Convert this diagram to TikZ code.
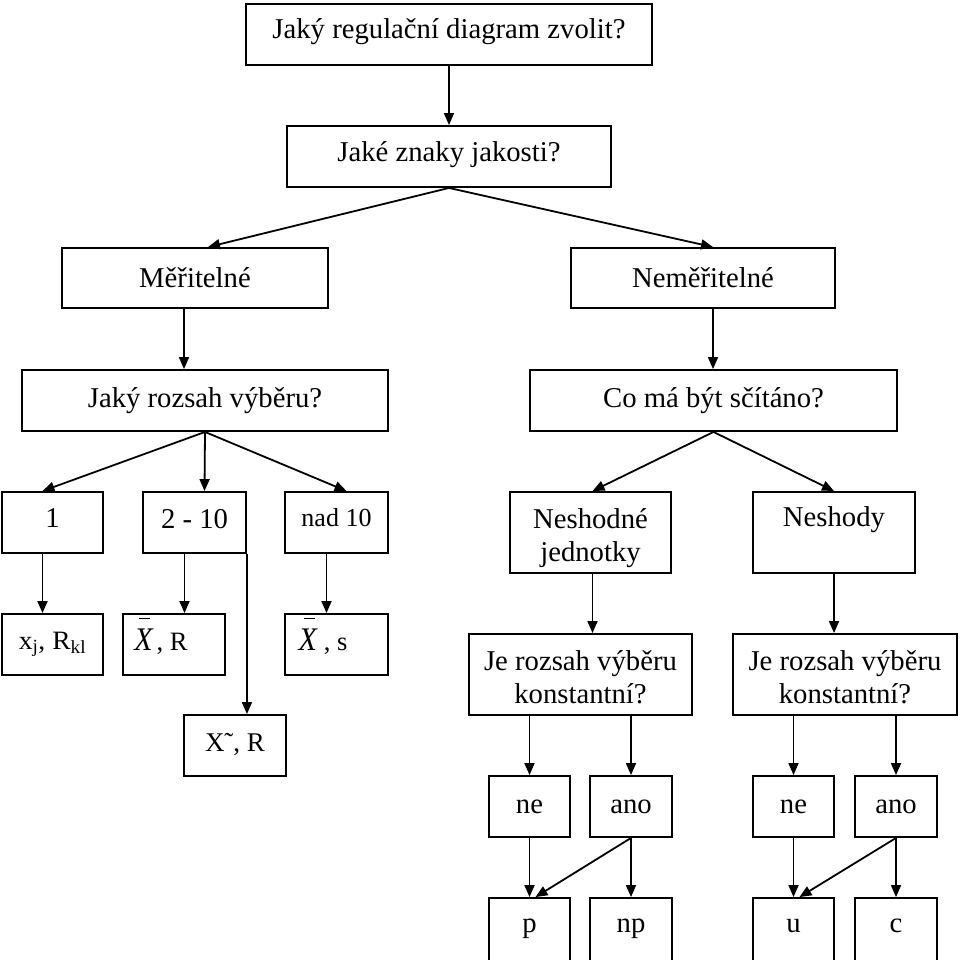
\documentclass[tikz,border=0pt]{standalone}
\usepackage{fontspec}
\setmainfont{Liberation Serif}
\usetikzlibrary{arrows.meta,calc}
\newcommand{\barX}{\leavevmode\rlap{\hspace{5pt}\smash{\raisebox{31pt}{\rule{11pt}{1.5pt}}}}\scalebox{1}[1.1]{\fontsize{30}{34}\selectfont\textit{X}}}
\begin{document}
\begin{tikzpicture}[x=1pt,y=-1pt,
  box/.style={draw, line width=1.9pt, inner sep=0pt, align=center,
    font=\fontsize{28.7}{33}\selectfont},
  sbox/.style={box, font=\fontsize{26}{30}\selectfont},
  fbox/.style={box, font=\fontsize{26.5}{30}\selectfont},
  bot/.style={box, minimum height=70pt, text height=10pt, text depth=12pt},
  arr/.style={line width=1.8pt, -{Triangle[length=12pt,width=10pt]}},
  ln/.style={line width=1.8pt}]
\useasboundingbox (0,0) rectangle (960,960);
\clip (0,0) rectangle (960,960);
% level 0-1
\node[box, minimum width=406pt, minimum height=61pt] (q1) at (449,34.5) {\rule[-12pt]{0pt}{1pt}Jaký regulační diagram zvolit?};
\node[box, minimum width=324pt, minimum height=61pt] (q2) at (449,156.5) {\rule[-10pt]{0pt}{1pt}Jaké znaky jakosti?};
% level 2
\node[box, minimum width=266pt, minimum height=60pt] (mer) at (195,278) {Měřitelné};
\node[box, minimum width=264pt, minimum height=60pt] (nem) at (703,278) {Neměřitelné};
% level 3
\node[box, minimum width=366pt, minimum height=61pt] (roz) at (205,400.5) {Jaký rozsah výběru?};
\node[box, minimum width=367pt, minimum height=61pt] (co) at (713.5,400.5) {Co má být sčítáno?};
% level 4
\node[box, minimum width=101pt, minimum height=61pt] (b1) at (52.5,522.5) {\rule[-8pt]{0pt}{1pt}1};
\node[box, minimum width=103pt, minimum height=61pt] (b2) at (194.5,522.5) {\rule[-8pt]{0pt}{1pt}2 - 10};
\node[sbox, minimum width=103pt, minimum height=61pt] (b3) at (336.5,522.5) {\rule[-10pt]{0pt}{1pt}nad 10};
\node[box, minimum width=161pt, minimum height=81pt] (nj) at (590.5,532.5) {\rule{0pt}{31.5pt}Neshodné\\jednotky};
\node[box, minimum width=162pt, minimum height=81pt] (nes) at (834,532.5) {\rule{0pt}{31.5pt}Neshody\\\strut};
% level 5
\node[fbox, minimum width=101pt, minimum height=61pt, text height=17pt, text depth=8pt] (xj) at (52.5,644.5) {\scalebox{1.04}[1]{x\textsubscript{j}, R\textsubscript{kl}}};
\node[fbox, minimum width=102pt, minimum height=61pt, text height=22pt, text depth=11pt] (xr) at (174,644.5) {\barX\kern3pt, R\hspace{26pt}};
\node[fbox, minimum width=103pt, minimum height=61pt, text height=22pt, text depth=11pt] (xs) at (336.5,644.5) {\barX\kern6pt, s\hspace{27pt}};
\node[box, font=\fontsize{27}{32}\selectfont, minimum width=102pt, minimum height=61pt, text height=18pt, text depth=7pt] (xt) at (235,745.5) {X˜, R};
\node[box, minimum width=223pt, minimum height=81pt] (je1) at (580.5,674.5) {\rule{0pt}{25.5pt}Je rozsah výběru\\konstantní?};
\node[box, minimum width=224pt, minimum height=81pt] (je2) at (845,674.5) {\rule{0pt}{25.5pt}Je rozsah výběru\\konstantní?};
% level 6
\node[box, minimum width=81pt, minimum height=61pt] (ne1) at (529.5,806.5) {ne};
\node[box, minimum width=82pt, minimum height=61pt] (ano1) at (631,806.5) {ano};
\node[box, minimum width=81pt, minimum height=61pt] (ne2) at (793.5,806.5) {ne};
\node[box, minimum width=82pt, minimum height=61pt] (ano2) at (896,806.5) {ano};
% level 7
\node[bot, minimum width=81pt] (p) at (529.5,933) {p};
\node[bot, minimum width=82pt] (np) at (631,933) {np};
\node[bot, minimum width=81pt] (u) at (793.5,933) {u};
\node[bot, minimum width=82pt] (c) at (896,933) {c};
% connectors
\draw[arr] (q1.south) -- (q2.north);
\draw[arr] (q2.south) -- ([xshift=13pt]mer.north);
\draw[arr] (q2.south) -- ([xshift=10pt]nem.north);
\draw[arr] ([xshift=-11pt]mer.south) -- ([xshift=-11pt]mer.south |- roz.north);
\draw[arr] ([xshift=10pt]nem.south) -- ([xshift=10pt]nem.south |- co.north);
\draw[arr] (roz.south) -- ([xshift=-10pt]b1.north);
\draw[arr] (roz.south) -- ([xshift=10pt]b2.north);
\draw[arr] (roz.south) -- ([xshift=10pt]b3.north);
\draw[arr] (co.south) -- ([xshift=2pt]nj.north);
\draw[arr] (co.south) -- (nes.north);
\draw[arr] ([xshift=-10pt]b1.south) -- ([xshift=-10pt]b1.south |- xj.north);
\draw[arr] ([xshift=-10pt]b2.south) -- ([xshift=-10pt]b2.south |- xr.north);
\draw[arr] ([xshift=-10pt]b3.south) -- ([xshift=-10pt]b3.south |- xs.north);
\draw[arr] (b2.south east) -- (b2.south east |- xt.north);
\draw[arr] ([xshift=2pt]nj.south) -- ([xshift=2pt]nj.south |- je1.north);
\draw[arr] (nes.south) -- (nes.south |- je2.north);
\draw[arr] (ne1.north |- je1.south) -- (ne1.north);
\draw[arr] (ano1.north |- je1.south) -- (ano1.north);
\draw[arr] (ne2.north |- je2.south) -- (ne2.north);
\draw[arr] (ano2.north |- je2.south) -- (ano2.north);
\draw[arr] (ne1.south) -- (p.north);
\draw[arr] (ano1.south) -- (np.north);
\draw[arr] (ano1.south) -- ([xshift=6pt]p.north);
\draw[arr] (ne2.south) -- (u.north);
\draw[arr] (ano2.south) -- (c.north);
\draw[arr] (ano2.south) -- ([xshift=6pt]u.north);
\end{tikzpicture}
\end{document}
